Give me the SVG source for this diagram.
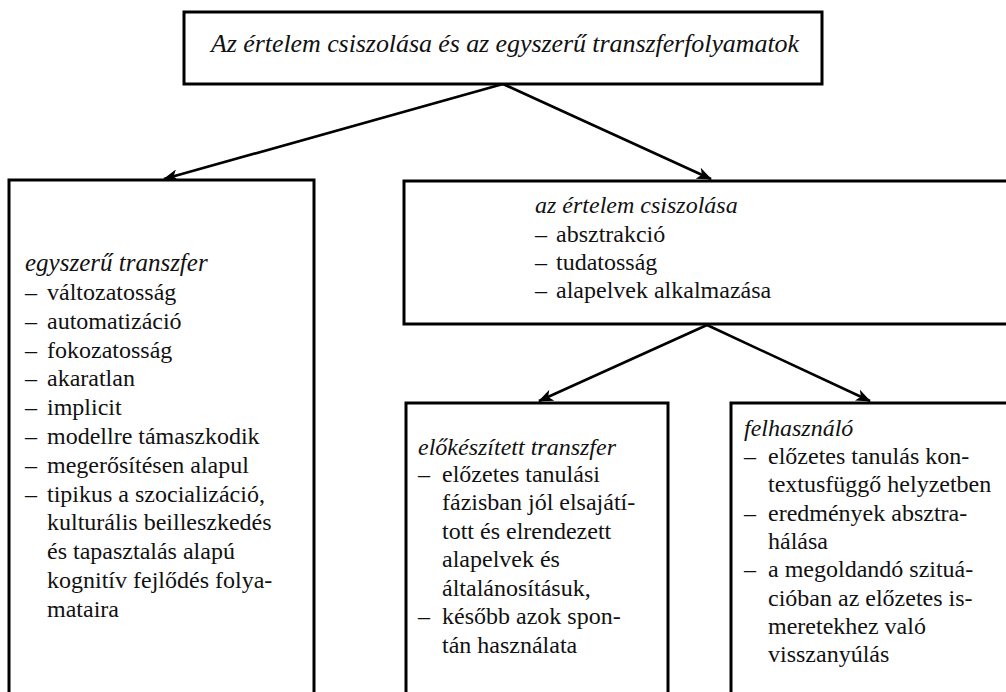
<svg xmlns="http://www.w3.org/2000/svg" width="1006" height="692" viewBox="0 0 1006 692">
<style>
.box{fill:#fff;stroke:#000;stroke-width:3}
.t{font-family:"Liberation Serif","DejaVu Serif",serif;font-size:24px;fill:#111}
.i{font-style:italic}
.c{stroke:#000;stroke-width:2.6;fill:none;marker-end:url(#ah)}
</style>
<defs>
<marker id="ah" markerWidth="15" markerHeight="12" refX="14" refY="6" orient="auto" markerUnits="userSpaceOnUse" viewBox="0 0 15 12">
<path d="M0,0 L15,6 L0,12 L4,6 Z" fill="#000"/>
</marker>
</defs>
<rect width="1006" height="692" fill="#fff"/>
<g id="connectors">
<line class="c" x1="503" y1="84" x2="164" y2="179"/>
<line class="c" x1="503" y1="84" x2="711" y2="179"/>
<line class="c" x1="707" y1="325" x2="539" y2="401"/>
<line class="c" x1="707" y1="325" x2="870" y2="401"/>
</g>
<g id="top">
<rect class="box" x="184" y="12" width="638" height="72"/>
<text class="t i" x="211" y="52" style="font-size:26px" textLength="588">Az értelem csiszolása és az egyszerű transzferfolyamatok</text>
</g>
<g id="simple">
<rect class="box" x="9" y="180" width="305" height="530"/>
<text class="t i" x="25" y="271" style="font-size:25px">egyszerű transzfer</text>
<text class="t" x="25" y="300">–</text><text class="t" x="47" y="300">változatosság</text>
<text class="t" x="25" y="329">–</text><text class="t" x="47" y="329">automatizáció</text>
<text class="t" x="25" y="358">–</text><text class="t" x="47" y="358">fokozatosság</text>
<text class="t" x="25" y="386">–</text><text class="t" x="47" y="386">akaratlan</text>
<text class="t" x="25" y="415">–</text><text class="t" x="47" y="415">implicit</text>
<text class="t" x="25" y="444">–</text><text class="t" x="47" y="444">modellre támaszkodik</text>
<text class="t" x="25" y="473">–</text><text class="t" x="47" y="473">megerősítésen alapul</text>
<text class="t" x="25" y="502">–</text><text class="t" x="47" y="502">tipikus a szocializáció,</text>
<text class="t" x="47" y="530">kulturális beilleszkedés</text>
<text class="t" x="47" y="559">és tapasztalás alapú</text>
<text class="t" x="47" y="588">kognitív fejlődés folya-</text>
<text class="t" x="47" y="617">mataira</text>
</g>
<g id="polish">
<rect class="box" x="404" y="181" width="620" height="143"/>
<text class="t i" x="535" y="213">az értelem csiszolása</text>
<text class="t" x="535" y="242">–</text><text class="t" x="556" y="242">absztrakció</text>
<text class="t" x="535" y="270">–</text><text class="t" x="556" y="270">tudatosság</text>
<text class="t" x="535" y="298">–</text><text class="t" x="556" y="298">alapelvek alkalmazása</text>
</g>
<g id="prepared">
<rect class="box" x="406" y="403" width="262" height="310"/>
<text class="t i" x="418" y="455">előkészített transzfer</text>
<text class="t" x="418" y="482">–</text><text class="t" x="442" y="482">előzetes tanulási</text>
<text class="t" x="442" y="510">fázisban jól elsajátí-</text>
<text class="t" x="442" y="539">tott és elrendezett</text>
<text class="t" x="442" y="567">alapelvek és</text>
<text class="t" x="442" y="596">általánosításuk,</text>
<text class="t" x="418" y="624">–</text><text class="t" x="442" y="624">később azok spon-</text>
<text class="t" x="442" y="653">tán használata</text>
</g>
<g id="user">
<rect class="box" x="731" y="403" width="300" height="310"/>
<text class="t i" x="744" y="436">felhasználó</text>
<text class="t" x="744" y="464">–</text><text class="t" x="768" y="464">előzetes tanulás kon-</text>
<text class="t" x="768" y="492">textusfüggő helyzetben</text>
<text class="t" x="744" y="521">–</text><text class="t" x="768" y="521">eredmények absztra-</text>
<text class="t" x="768" y="549">hálása</text>
<text class="t" x="744" y="577">–</text><text class="t" x="768" y="577">a megoldandó szituá-</text>
<text class="t" x="768" y="606">cióban az előzetes is-</text>
<text class="t" x="768" y="634">meretekhez való</text>
<text class="t" x="768" y="662">visszanyúlás</text>
</g>
</svg>
